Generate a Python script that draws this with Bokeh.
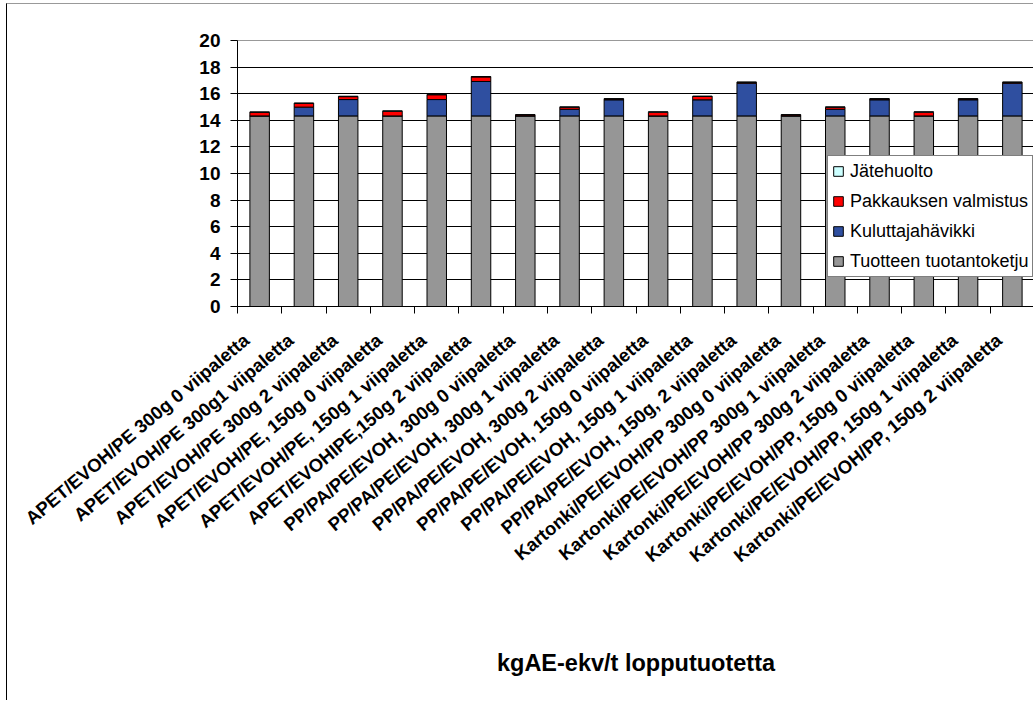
import numpy as np
from bokeh.plotting import figure
from bokeh.models import (ColumnDataSource, Range1d, FixedTicker, Legend, LegendItem)
from bokeh.embed import file_html
from bokeh.resources import INLINE

categories = [
    "APET/EVOH/PE 300g 0 viipaletta",
    "APET/EVOH/PE 300g1 viipaletta",
    "APET/EVOH/PE 300g 2 viipaletta",
    "APET/EVOH/PE, 150g 0 viipaletta",
    "APET/EVOH/PE, 150g 1 viipaletta",
    "APET/EVOHIPE,150g 2 viipaletta",
    "PP/PA/PE/EVOH, 300g 0 viipaletta",
    "PP/PA/PE/EVOH, 300g 1 viipaletta",
    "PP/PA/PE/EVOH, 300g 2 viipaletta",
    "PP/PA/PE/EVOH, 150g 0 viipaletta",
    "PP/PA/PE/EVOH, 150g 1 viipaletta",
    "PP/PA/PE/EVOH, 150g, 2 viipaletta",
    "Kartonki/PE/EVOH/PP 300g 0 viipaletta",
    "Kartonki/PE/EVOH/PP 300g 1 viipaletta",
    "Kartonki/PE/EVOH/PP 300g 2 viipaletta",
    "Kartonki/PE/EVOH/PP, 150g 0 viipaletta",
    "Kartonki/PE/EVOH/PP, 150g 1 viipaletta",
    "Kartonki/PE/EVOH/PP, 150g 2 viipaletta",
]

tuotantoketju = [14.33] * 18
kuluttajahavikki = [0.0, 0.66, 1.23, 0.0, 1.23, 2.59, 0.0, 0.5, 1.21, 0.0, 1.21, 2.46,
                    0.0, 0.5, 1.21, 0.0, 1.21, 2.46]
pakkaus = [0.27, 0.28, 0.22, 0.35, 0.36, 0.34, 0.07, 0.15, 0.06, 0.28, 0.25, 0.06,
           0.07, 0.15, 0.06, 0.28, 0.06, 0.06]
jatehuolto = [0.03] * 18

series_names = ["Tuotteen tuotantoketju", "Kuluttajahävikki", "Pakkauksen valmistus", "Jätehuolto"]
series_colors = ["#969696", "#2F4FA0", "#FF0000", "#CCFFFF"]
y_ticks = [0, 2, 4, 6, 8, 10, 12, 14, 16, 18, 20]
x_title = "kgAE-ekv/t lopputuotetta"

FONT = "Liberation Sans"
LABEL_SHIFT = -0.3  # where the slanted category labels hang, relative to bar centres

n = len(categories)
xpos = list(range(n))
source = ColumnDataSource(dict(x=xpos, s0=tuotantoketju, s1=kuluttajahavikki,
                               s2=pakkaus, s3=jatehuolto))

p = figure(width=1027, height=697, output_backend="svg", toolbar_location=None,
           x_range=Range1d(-0.5, n - 0.5), y_range=Range1d(0, 20),
           min_border_left=230, min_border_right=0, min_border_top=36, min_border_bottom=395,
           styles={"margin-left": "6px", "margin-top": "3px",
                   "border-left": "1px solid black", "border-top": "1px solid #999999"})

renderers = p.vbar_stack(["s0", "s1", "s2", "s3"], x="x", width=0.44, source=source,
                         fill_color=series_colors, line_color="black", line_width=1)

p.background_fill_color = "white"
p.border_fill_color = "white"
p.outline_line_color = "#999999"
p.outline_line_width = 1

p.xgrid.visible = False
p.ygrid.ticker = FixedTicker(ticks=y_ticks[1:-1])
p.ygrid.grid_line_color = "black"
p.ygrid.grid_line_width = 1

yax = p.yaxis[0]
yax.ticker = FixedTicker(ticks=y_ticks)
yax.axis_line_color = "black"
yax.major_tick_line_color = "black"
yax.major_tick_in = 0
yax.major_tick_out = 7
yax.minor_tick_line_color = None
yax.major_label_text_color = "black"
yax.major_label_text_font = FONT
yax.major_label_text_font_style = "bold"
yax.major_label_text_font_size = "19px"
yax.major_label_standoff = 10

label_ticks = [x + LABEL_SHIFT for x in xpos]
xax = p.xaxis[0]
xax.ticker = FixedTicker(ticks=label_ticks, minor_ticks=[i - 0.5 for i in range(n + 1)])
xax.major_label_overrides = {t: c for t, c in zip(label_ticks, categories)}
xax.major_tick_in = 0
xax.major_tick_out = 0
xax.minor_tick_in = 0
xax.minor_tick_out = 7
xax.minor_tick_line_color = "black"
xax.axis_line_color = "black"
xax.major_label_orientation = np.deg2rad(40)
xax.major_label_text_color = "black"
xax.major_label_text_font = FONT
xax.major_label_text_font_style = "bold"
xax.major_label_text_font_size = "18.5px"
xax.major_label_standoff = 24
xax.axis_label = x_title
xax.axis_label_text_color = "black"
xax.axis_label_text_font = FONT
xax.axis_label_text_font_style = "bold"
xax.axis_label_text_font_size = "23.5px"
xax.axis_label_standoff = 73

items = [LegendItem(label=series_names[i], renderers=[renderers[i]]) for i in [3, 2, 1, 0]]
legend = Legend(items=items, location=(590, 29), orientation="vertical",
                border_line_color="black", border_line_width=1,
                background_fill_color="white", background_fill_alpha=1,
                label_text_font=FONT, label_text_font_size="18px", label_text_color="black",
                glyph_width=12, glyph_height=12, label_standoff=6,
                label_height=22, spacing=8, padding=4, margin=0)
p.add_layout(legend, "center")

open("out.html", "w").write(file_html(p, INLINE))
